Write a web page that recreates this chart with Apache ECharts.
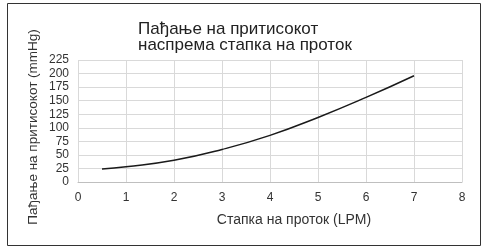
<!DOCTYPE html>
<html>
<head>
<meta charset="utf-8">
<script src="https://cdn.jsdelivr.net/npm/echarts@6/dist/echarts.min.js"></script>
<style>
  html, body { margin: 0; padding: 0; background: #fff; }
  #chart { width: 487px; height: 248px; }
</style>
</head>
<body>
<div id="chart"></div>
<script>
// податоци прочитани од сликата
var flow = [0.5, 1, 2, 3, 4, 5, 6, 7];
var pressureDrop = [24, 28, 40, 60, 86, 119, 156, 196];
var titleLines = ['Пађање на притисокот', 'наспрема стапка на проток'];
var xName = 'Стапка на проток (LPM)';
var yName = 'Пађање на притисокот (mmHg)';

var font = '"Liberation Sans", Arial, sans-serif';
var chart = echarts.init(document.getElementById('chart'));

var points = flow.map(function (x, i) { return [x, pressureDrop[i]]; });

var option = {
    animation: false,
    grid: { left: 78, right: 25, top: 60, bottom: 66 },
    xAxis: {
        type: 'value',
        min: 0, max: 8, interval: 1,
        axisLine: { show: true, lineStyle: { color: '#bfbfbf', width: 1 } },
        axisTick: { show: false },
        axisLabel: { color: '#333', fontSize: 12, fontFamily: font, margin: 10 },
        splitLine: { show: true, lineStyle: { color: '#d9d9d9', width: 1 } }
    },
    yAxis: {
        type: 'value',
        min: 0, max: 225, interval: 25,
        axisLine: { show: false },
        axisTick: { show: false },
        axisLabel: { color: '#333', fontSize: 12, fontFamily: font, margin: 9 },
        splitLine: { show: true, lineStyle: { color: '#d9d9d9', width: 1 } }
    },
    series: [{
        type: 'line',
        data: points,
        smooth: true,
        showSymbol: false,
        lineStyle: { color: '#1a1a1a', width: 1.5 }
    }],
    graphic: [
        {
            type: 'rect',
            shape: { x: 7.5, y: 3.5, width: 473, height: 242 },
            style: { fill: 'none', stroke: '#333', lineWidth: 1 },
            silent: true
        },
        {
            type: 'text',
            left: 138, top: 21,
            style: { text: titleLines.join('\n'), font: '17px ' + font, fill: '#222', lineHeight: 16 }
        },
        {
            type: 'text',
            x: 294, y: 220,
            style: { text: xName, font: '14px ' + font, fill: '#333', align: 'center', verticalAlign: 'middle' }
        },
        {
            type: 'text',
            x: 33, y: 127,
            rotation: Math.PI / 2,
            style: { text: yName, font: '13.5px ' + font, fill: '#333', align: 'center', verticalAlign: 'middle' }
        }
    ]
};

chart.setOption(option);
</script>
</body>
</html>
